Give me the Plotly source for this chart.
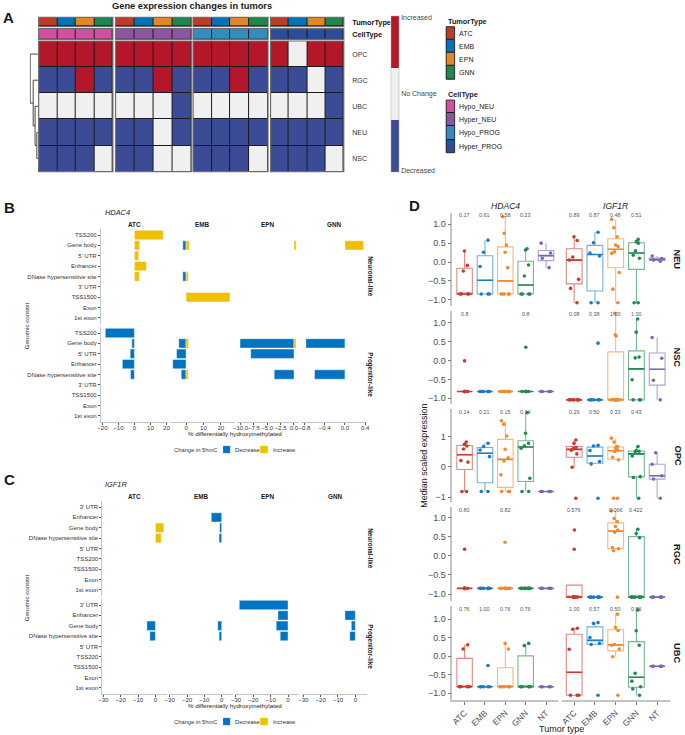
import numpy as np
import plotly.graph_objects as go

W, H = 685, 735
FONT = "Liberation Sans, Arial, sans-serif"

# ---------------- Panel A data ----------------
A_rows = ["OPC", "RGC", "UBC", "NEU", "NSC"]
A_tumors = ["ATC", "EMB", "EPN", "GNN"]
A_celltypes = ["Hypo_NEU", "Hyper_NEU", "Hypo_PROG", "Hyper_PROG"]
A_status_labels = ["Decreased", "No Change", "Increased"]
A_hypo_neu = [[1, 1, 1, 1], [-1, -1, 1, -1], [0, 0, 0, 0], [-1, -1, -1, -1], [-1, -1, -1, 0]]
A_hyper_neu = [[1, 1, 1, 1], [-1, -1, 1, -1], [0, 0, 0, -1], [-1, -1, 0, -1], [-1, -1, 0, 0]]
A_hypo_prog = [[1, 1, 1, 1], [-1, -1, 1, -1], [0, 0, 0, 0], [-1, -1, -1, -1], [-1, -1, -1, 0]]
A_hyper_prog = [[1, 0, 1, 1], [-1, -1, 0, -1], [0, 0, 0, -1], [-1, -1, -1, -1], [-1, -1, -1, 0]]
A_dendro_merges = [(["NEU"], ["NSC"], 1.0),
                   (["UBC"], ["NEU", "NSC"], 2.6),
                   (["RGC"], ["UBC", "NEU", "NSC"], 4.3),
                   (["OPC"], ["RGC", "UBC", "NEU", "NSC"], 7.0)]
A_tumor_colors = ["#BC3C29", "#0072B5", "#E18727", "#20854E"]
A_cell_colors = ["#D24FA0", "#8C55A0", "#338CBE", "#2B4B9B"]
A_status_colors = ["#3C4B96", "#F0F0F0", "#B5172A"]

# ---------------- Panel B data (HDAC4) ----------------
B_contexts = ["TSS200", "Gene body", "5' UTR", "Enhancer", "DNase hypersensitive site",
              "3' UTR", "TSS1500", "Exon", "1st exon"]
B_tumors = ["ATC", "EMB", "EPN", "GNN"]
N = None
B_neuronal_decrease = {"ATC": [N] * 9,
                       "EMB": [N, -1.9, N, N, -1.9, N, N, N, N],
                       "EPN": [N] * 9,
                       "GNN": [N] * 9}
B_neuronal_increase = {"ATC": [18.0, 3.3, 2.65, 7.55, 3.1, N, N, N, N],
                       "EMB": [N, 1.8, N, N, 1.3, N, 25.3, N, N],
                       "EPN": [N, 0.4, N, N, N, N, N, N, N],
                       "GNN": [N, 0.37, N, N, N, N, N, N, N]}
B_progenitor_decrease = {"ATC": [-18.2, -1.6, -2.65, -7.55, -2.45, N, N, N, N],
                         "EMB": [N, -4.2, -5.5, -7.7, -2.8, N, N, N, N],
                         "EPN": [N, -10.1, -8.1, N, -3.7, N, N, N, N],
                         "GNN": [N, -0.77, N, N, -0.6, N, N, N, N]}
B_progenitor_increase = {"ATC": [N] * 9,
                         "EMB": [N, 1.5, N, N, 1.3, N, N, N, N],
                         "EPN": [N, 0.4, N, N, N, N, N, N, N],
                         "GNN": [N] * 9}
B_ticks = {"ATC": [-20, -10, 0, 10, 20], "EMB": [0, 10, 20],
           "EPN": [-10, -7.5, -5, -2.5, 0], "GNN": [-0.8, -0.4, 0, 0.4]}
B_tickformat = {"ATC": "d", "EMB": "d", "EPN": ".1f", "GNN": ".1f"}

# ---------------- Panel C data (IGF1R) ----------------
C_contexts = ["3' UTR", "Enhancer", "Gene body", "DNase hypersensitive site", "5' UTR",
              "TSS200", "TSS1500", "Exon", "1st exon"]
C_neuronal_decrease = {"ATC": [N] * 9,
                       "EMB": [N, -6.0, -1.2, -1.5, N, N, N, N, N],
                       "EPN": [N] * 9,
                       "GNN": [N] * 9}
C_neuronal_increase = {"ATC": [N, N, 4.9, 3.4, N, N, N, N, N],
                       "EMB": [N] * 9, "EPN": [N] * 9, "GNN": [N] * 9}
C_progenitor_decrease = {"ATC": [N, N, -4.9, -3.2, N, N, N, N, N],
                         "EMB": [N, N, -2.3, -1.5, N, N, N, N, N],
                         "EPN": [-28.1, -5.8, -6.8, -4.5, N, N, N, N, N],
                         "GNN": [N, -6.0, -2.3, -3.2, N, N, N, N, N]}
C_progenitor_increase = {"ATC": [N] * 9, "EMB": [N] * 9, "EPN": [N] * 9, "GNN": [N] * 9}
C_ticks = [-30, -20, -10, 0]
CHANGE_TITLE = "Change in 5hmC"
CHANGE_LABELS = ["Decrease", "Increase"]
CHANGE_COLORS = ["#0073C2", "#EFC000"]

# ---------------- Panel D data ----------------
D_groups = ["ATC", "EMB", "EPN", "GNN", "NT"]
D_colors = ["#CB3A2E", "#1C7BC4", "#F08A2C", "#218A4E", "#7A68B4"]
D_celltypes = ["NEU", "NSC", "OPC", "RGC", "UBC"]
D_genes = ["HDAC4", "IGF1R"]

D_NEU_HDAC4 = {"ATC": [0.29, -0.09, -0.24, -0.85, -0.85, -0.85, -0.85],
               "EMB": [0.58, 0.26, -0.12, -0.85, -0.85, -0.85],
               "EPN": [1.2, 0.76, 0.45, 0.26, -0.15, -0.85, -0.85, -0.85, -0.85, -0.85],
               "GNN": [0.35, 0.32, -0.08, -0.37, -0.85, -0.85, -0.85, -0.85],
               "NT": [0.5, 0.24, 0.1, -0.15]}
D_NEU_IGF1R = {"ATC": [0.67, 0.57, 0.13, 0.05, -0.46, -0.7, -1.08],
               "EMB": [0.79, 0.51, 0.24, 0.16, -1.08, -1.08],
               "EPN": [1.13, 0.91, 0.67, 0.45, 0.41, 0.27, 0.23, -0.28, -0.72, -1.08],
               "GNN": [0.6, 0.54, 0.5, 0.3, 0.18, 0.1, -1.08, -1.08],
               "NT": [0.16, 0.09, 0.05, 0.02]}
D_NSC_HDAC4 = {"ATC": [-0.01, -0.82, -0.82, -0.82, -0.82, -0.82, -0.82],
               "EMB": [-0.82] * 6,
               "EPN": [-0.82] * 10,
               "GNN": [0.35, -0.82, -0.82, -0.82, -0.82, -0.82, -0.82, -0.82],
               "NT": [-0.82] * 4}
D_NSC_IGF1R = {"ATC": [-1.04] * 7,
               "EMB": [0.46, -1.04, -1.04, -1.04, -1.04, -1.04],
               "EPN": [1.25, 0.68, 0.65, -1.04, -1.04, -1.04, -1.04, -1.04, -1.04, -1.04],
               "GNN": [1.1, 0.75, 0.09, 0.07, -0.51, -1.04, -1.04, -1.04],
               "NT": [0.61, 0.06, -0.52, -1.04]}
D_OPC_HDAC4 = {"ATC": [0.82, 0.75, 0.69, 0.59, 0.21, 0.16, -0.81, -0.81],
               "EMB": [0.78, 0.67, 0.56, 0.34, -0.81, -0.81],
               "EPN": [1.52, 1.41, 1.02, 0.58, 0.3, 0.2, -0.26, -0.81, -0.81, -0.81],
               "GNN": [1.79, 1.11, 0.78, 0.7, 0.62, -0.37, -0.81, -0.81],
               "NT": [-0.81] * 4}
D_OPC_IGF1R = {"ATC": [0.89, 0.78, 0.64, 0.61, 0.55, 0.43, -0.01, -1.03],
               "EMB": [0.71, 0.69, 0.54, 0.18, 0.1, -1.03],
               "EPN": [0.95, 0.82, 0.67, 0.62, 0.56, 0.51, 0.32, 0.23, -1.03, -1.03],
               "GNN": [0.67, 0.54, 0.52, 0.5, 0.36, -0.32, -0.35, -1.03],
               "NT": [0.47, 0.09, -0.29, -0.4, -1.03]}
D_RGC_HDAC4 = {"ATC": [0.17, -0.85, -0.85, -0.85, -0.85, -0.85, -0.85],
               "EMB": [-0.85] * 6,
               "EPN": [0.35, -0.85, -0.85, -0.85, -0.85, -0.85, -0.85, -0.85, -0.85, -0.85],
               "GNN": [-0.85] * 8,
               "NT": [-0.85] * 4}
D_RGC_IGF1R = {"ATC": [0.67, 0.17, -1.08, -1.08, -1.08, -1.08, -1.08, -1.08],
               "EMB": [-1.08] * 6,
               "EPN": [1.17, 0.97, 0.89, 0.76, 0.67, 0.61, 0.21, 0.18, 0.13, -1.08],
               "GNN": [0.69, 0.58, 0.47, -1.08, -1.08, -1.08, -1.08, -1.08],
               "NT": [-1.08] * 4}
D_UBC_HDAC4 = {"ATC": [0.31, 0.2, -0.82, -0.82, -0.82, -0.82],
               "EMB": [-0.25, -0.82, -0.82, -0.82, -0.82, -0.82],
               "EPN": [0.35, 0.2, -0.82, -0.82, -0.82, -0.82, -0.82],
               "GNN": [0.35, 0.29, -0.82, -0.82, -0.82, -0.82],
               "NT": [-0.82] * 4}
D_UBC_IGF1R = {"ATC": [0.76, 0.73, 0.19, -1.05, -1.05, -1.05],
               "EMB": [0.91, 0.89, 0.51, 0.35, 0.32, -1.05],
               "EPN": [1.14, 0.78, 0.7, 0.32, 0.3, 0.2, -0.01, -1.05],
               "GNN": [1.25, 0.69, 0.3, -0.46, -0.67, -0.82, -0.88, -1.05],
               "NT": [-0.27] * 4}
D_pvalues = {("NEU", "HDAC4"): ["0.17", "0.61", "0.58", "0.23"],
             ("NEU", "IGF1R"): ["0.89", "0.87", "0.48", "0.51"],
             ("NSC", "HDAC4"): ["0.8", "", "", "0.8"],
             ("NSC", "IGF1R"): ["0.08", "0.38", "1.00", "1.00"],
             ("OPC", "HDAC4"): ["0.14", "0.21", "0.15", "0.14"],
             ("OPC", "IGF1R"): ["0.29", "0.50", "0.33", "0.43"],
             ("RGC", "HDAC4"): ["0.80", "", "0.82", ""],
             ("RGC", "IGF1R"): ["0.576", "", "0.066", "0.422"],
             ("UBC", "HDAC4"): ["0.76", "1.00", "0.76", "0.76"],
             ("UBC", "IGF1R"): ["1.00", "0.57", "0.50", "0.86"]}
D_data = {("NEU", "HDAC4"): D_NEU_HDAC4, ("NEU", "IGF1R"): D_NEU_IGF1R,
          ("NSC", "HDAC4"): D_NSC_HDAC4, ("NSC", "IGF1R"): D_NSC_IGF1R,
          ("OPC", "HDAC4"): D_OPC_HDAC4, ("OPC", "IGF1R"): D_OPC_IGF1R,
          ("RGC", "HDAC4"): D_RGC_HDAC4, ("RGC", "IGF1R"): D_RGC_IGF1R,
          ("UBC", "HDAC4"): D_UBC_HDAC4, ("UBC", "IGF1R"): D_UBC_IGF1R}

# ---------------- helpers ----------------
fig = go.Figure()
LAY = {}
ANN = []
SHP = []
_n = [0]
BASE = dict(showgrid=False, zeroline=False, showline=False, showticklabels=False,
            ticks="", fixedrange=True)


def xd(a, b):
    return [a / W, b / W]


def yd(top, bot):
    return [1 - bot / H, 1 - top / H]


def axes(xdom, ydom, xo=None, yo=None):
    _n[0] += 1
    s = "" if _n[0] == 1 else str(_n[0])
    xa = dict(BASE)
    xa.update(domain=xdom, anchor="y" + s)
    xa.update(xo or {})
    ya = dict(BASE)
    ya.update(domain=ydom, anchor="x" + s)
    ya.update(yo or {})
    LAY["xaxis" + s] = xa
    LAY["yaxis" + s] = ya
    return "x" + s, "y" + s


def ptext(x, y, s, size, color="#1a1a1a", xanchor="center", yanchor="middle", angle=0):
    ANN.append(dict(x=x / W, y=1 - y / H, xref="paper", yref="paper", text=s, showarrow=False,
                    xanchor=xanchor, yanchor=yanchor, textangle=angle,
                    font=dict(size=size, color=color, family=FONT)))


def frame(xr, yr, bg="#1b1b1b", edge="#6e6e6e", ew=1.2):
    if bg:
        SHP.append(dict(type="rect", xref=xr + " domain", yref=yr + " domain", x0=0, x1=1,
                        y0=0, y1=1, fillcolor=bg, line=dict(width=0), layer="below"))
    SHP.append(dict(type="rect", xref=xr + " domain", yref=yr + " domain", x0=0, x1=1, y0=0, y1=1,
                    fillcolor="rgba(0,0,0,0)", line=dict(color=edge, width=ew), layer="above"))


def discrete(colors):
    n = len(colors)
    sc = []
    for i, c in enumerate(colors):
        sc.append([i / n, c])
        sc.append([(i + 1) / n, c])
    return sc


def lighten(hexc, f):
    h = hexc.lstrip("#")
    r, g, b = int(h[0:2], 16), int(h[2:4], 16), int(h[4:6], 16)
    return "rgb(%d,%d,%d)" % (r + (255 - r) * f, g + (255 - g) * f, b + (255 - b) * f)


# ================= Panel A =================
ptext(5, 18, "<b>A</b>", 15)
ptext(190, 6, "<b>Gene expression changes in tumors</b>", 9.3)
A_blocks_px = [(35, 110), (112.7, 189.3), (191, 266.7), (269.3, 343.3)]
A_values = [A_hypo_neu, A_hyper_neu, A_hypo_prog, A_hyper_prog]
right_lbl = dict(side="right", showticklabels=True, ticks="outside", ticklen=6,
                 tickcolor="rgba(0,0,0,0)")
for b in range(4):
    x0, x1 = A_blocks_px[b]
    last = b == 3
    yo = dict(type="category")
    if last:
        yo.update(right_lbl, tickfont=dict(size=7.3, color="#111", weight="bold"))
    xr, yr = axes(xd(x0, x1), yd(17.3, 26.7), dict(type="category"), yo)
    fig.add_heatmap(z=[list(range(len(A_tumors)))], x=A_tumors, y=["TumorType"],
                    colorscale=discrete(A_tumor_colors), zmin=-0.5, zmax=3.5, showscale=False,
                    xgap=1, ygap=1, xaxis=xr, yaxis=yr, hoverinfo="skip")
    frame(xr, yr)
    yo = dict(type="category")
    if last:
        yo.update(right_lbl, tickfont=dict(size=7.3, color="#111", weight="bold"))
    xr, yr = axes(xd(x0, x1), yd(28.7, 39.3), dict(type="category"), yo)
    fig.add_heatmap(z=[[b] * len(A_tumors)], x=A_tumors, y=["CellType"],
                    colorscale=discrete(A_cell_colors), zmin=-0.5, zmax=3.5, showscale=False,
                    xgap=1, ygap=1, xaxis=xr, yaxis=yr, hoverinfo="skip")
    frame(xr, yr)
    yo = dict(type="category", categoryorder="array", categoryarray=A_rows, autorange="reversed")
    if last:
        yo.update(right_lbl, tickfont=dict(size=7, color="#333"))
    xr, yr = axes(xd(x0, x1), yd(41, 171.7), dict(type="category"), yo)
    hm = dict(z=A_values[b], x=A_tumors, y=A_rows, colorscale=discrete(A_status_colors),
              zmin=-1.5, zmax=1.5, xgap=1, ygap=1, xaxis=xr, yaxis=yr, hoverinfo="skip",
              showscale=(b == 0))
    if b == 0:
        hm["colorbar"] = dict(x=391 / W, xanchor="left", y=1 - 16 / H, yanchor="top",
                              len=156, lenmode="pixels", thickness=8, thicknessmode="pixels",
                              tickvals=[-1.47, 0, 1.47], ticktext=A_status_labels, ticks="",
                              tickfont=dict(size=7, color="#444", family=FONT),
                              outlinewidth=0.5, outlinecolor="#aaa", xpad=0, ypad=0)
    fig.add_heatmap(**hm)
    frame(xr, yr)

# dendrogram (segments computed from the merge list)
pos = {(r,): i for i, r in enumerate(A_rows)}
hgt = {(r,): 0.0 for r in A_rows}
dx, dy = [], []
for left, right, h in A_dendro_merges:
    Lk, Rk = tuple(left), tuple(right)
    dx += [hgt[Lk], h, h, hgt[Rk], None]
    dy += [pos[Lk], pos[Lk], pos[Rk], pos[Rk], None]
    pos[Lk + Rk] = (pos[Lk] + pos[Rk]) / 2
    hgt[Lk + Rk] = h
xr, yr = axes(xd(26, 34.3), yd(41, 171.7), dict(range=[7.4, 0]), dict(range=[4.5, -0.5]))
fig.add_scatter(x=dx, y=dy, mode="lines", line=dict(color="#333", width=0.9),
                xaxis=xr, yaxis=yr, hoverinfo="skip", showlegend=False)

# legend swatches for annotations
for title, ty, items, cols, y0, y1 in (("TumorType", 21, A_tumors, A_tumor_colors, 26.7, 79.3),
                                       ("CellType", 94, A_celltypes, A_cell_colors, 100, 152.7)):
    ptext(446.7, ty, "<b>%s</b>" % title, 7.3, xanchor="left")
    xr, yr = axes(xd(446.7, 455.3), yd(y0, y1), dict(type="category"),
                  dict(type="category", autorange="reversed", side="right", showticklabels=True,
                       ticks="outside", ticklen=2, tickcolor="rgba(0,0,0,0)",
                       tickfont=dict(size=7, color="#222")))
    fig.add_heatmap(z=[[i] for i in range(len(items))], x=["k"], y=items,
                    colorscale=discrete(cols), zmin=-0.5, zmax=3.5, showscale=False,
                    xgap=1, ygap=1, xaxis=xr, yaxis=yr, hoverinfo="skip")
    frame(xr, yr, edge="#222", ew=0.8)

# ================= Panels B and C =================
AXC = "#C4C4C4"
TF = dict(size=6, color="#333", family=FONT)
LEG_SWATCH_X = [(221, 228.7), (258.7, 266.7)]
LEG_LABEL_X = [231, 269.3]


def bar_panel(top_px, gene, contexts, neu_dec, neu_inc, pro_dec, pro_inc, col_px, xranges,
              ticks, tickfmt, letter, letter_y):
    ptext(6, letter_y, "<b>%s</b>" % letter, 15)
    ptext(100, top_px - 16, "<i>%s</i>" % gene, 7.4, xanchor="left")
    rows_px = [(top_px, top_px + 95.4), (top_px + 98, top_px + 193.4)]
    strips = ["Neuronal-like", "Progenitor-like"]
    for r in range(2):
        y0, y1 = rows_px[r]
        dec = [neu_dec, pro_dec][r]
        inc = [neu_inc, pro_inc][r]
        for c, t in enumerate(B_tumors):
            bottom = r == 1
            xo = dict(range=xranges[c])
            if bottom:
                xo.update(showline=True, linecolor=AXC, linewidth=1.2, ticks="outside",
                          ticklen=2, tickcolor="#555", tickwidth=0.6, showticklabels=True,
                          tickvals=ticks[c], tickformat=tickfmt[c], tickfont=TF,
                          tickangle=0, ticklabelstandoff=-3)
            yo = dict(type="category", categoryorder="array", categoryarray=contexts,
                      range=[len(contexts) - 0.4, -0.6])
            if c == 0:
                yo.update(showline=True, linecolor=AXC, linewidth=1.2, ticks="outside",
                          ticklen=2, tickcolor="#555", tickwidth=0.6, showticklabels=True,
                          tickfont=TF)
            xr, yr = axes(xd(*col_px[c]), yd(y0, y1), xo, yo)
            for vals, colr in ((dec[t], CHANGE_COLORS[0]), (inc[t], CHANGE_COLORS[1])):
                fig.add_bar(x=vals, y=contexts, orientation="h", marker_color=colr,
                            marker_line=dict(color="rgba(255,255,255,0.55)", width=0.8),
                            xaxis=xr, yaxis=yr, hoverinfo="skip", showlegend=False)
            if r == 0:
                ptext(sum(col_px[c]) / 2, top_px - 4, "<b>%s</b>" % t, 6.3)
        ptext(370, (y0 + y1) / 2, "<b>%s</b>" % strips[r], 6.3, angle=90)
    ptext(23, (rows_px[0][0] + rows_px[1][1]) / 2, "Genomic context", 6.2, angle=-90)
    ptext(233, rows_px[1][1] + 11.5, "% differentially hydroxymethylated", 6.2)
    # legend: colour swatches drawn as one-cell heatmaps
    ly = rows_px[1][1] + 27.3
    ptext(218, ly, CHANGE_TITLE, 5.8, color="#333", xanchor="right")
    for i, (lab, colr) in enumerate(zip(CHANGE_LABELS, CHANGE_COLORS)):
        sx0, sx1 = LEG_SWATCH_X[i]
        xr, yr = axes(xd(sx0, sx1), yd(ly - 3.9, ly + 3.9), dict(range=[-0.5, 0.5]),
                      dict(range=[-0.5, 0.5]))
        fig.add_heatmap(z=[[i]], x=[0], y=[0], colorscale=discrete(CHANGE_COLORS), zmin=-0.5,
                        zmax=1.5, showscale=False, xaxis=xr, yaxis=yr, hoverinfo="skip")
        frame(xr, yr, bg=None, edge="rgba(255,255,255,0.7)", ew=0.6)
        ptext(LEG_LABEL_X[i], ly, lab, 5.8, color="#333", xanchor="left")


B_col_px = [(98, 166), (168, 233), (235, 298), (300, 367)]
B_xranges = [[-20.9, 21.2], [-9.1, 28.0], [-10.74, 0.93], [-0.868, 0.44]]
bar_panel(228.8, "HDAC4", B_contexts, B_neuronal_decrease, B_neuronal_increase,
          B_progenitor_decrease, B_progenitor_increase, B_col_px, B_xranges,
          [B_ticks[t] for t in B_tumors], [B_tickformat[t] for t in B_tumors], "B", 207)

C_col_px = [(99.5, 164.5), (166.5, 231.5), (233.5, 298.5), (301.5, 366.5)]
bar_panel(500.8, "IGF1R", C_contexts, C_neuronal_decrease, C_neuronal_increase,
          C_progenitor_decrease, C_progenitor_increase, C_col_px, [[-30.5, 6.6]] * 4,
          [C_ticks] * 4, ["d"] * 4, "C", 479)

# ================= Panel D =================
ptext(415, 206, "<b>D</b>", 15)
D_col_px = [(453, 560), (563.5, 672.5)]
D_row_px = [(213, 306), (311, 404), (409, 502), (507, 601), (606, 700)]
D_yranges = [[-1.167, 1.30], [-1.15, 1.31], [-1.155, 1.91], [-1.18, 1.27], [-1.18, 1.36]]
DTF = dict(size=9, color="#4D4D4D", family=FONT)


def box_stats(v):
    v = np.sort(np.asarray(v, float))
    q1, med, q3 = np.percentile(v, [25, 50, 75])
    iqr = q3 - q1
    lo = v[v >= q1 - 1.5 * iqr].min()
    hi = v[v <= q3 + 1.5 * iqr].max()
    return q1, med, q3, lo, hi


for r, ct in enumerate(D_celltypes):
    y0, y1 = D_row_px[r]
    last = r == len(D_celltypes) - 1
    for c, gene in enumerate(D_genes):
        xo = dict(type="category", categoryorder="array", categoryarray=D_groups,
                  range=[-0.6, len(D_groups) - 0.4])
        if last:
            xo.update(showline=True, linecolor=AXC, linewidth=1.5, ticks="outside", ticklen=3,
                      tickcolor="#777", showticklabels=True, tickangle=-45,
                      tickfont=dict(size=8.5, color="#4D4D4D", family=FONT))
        yo = dict(range=D_yranges[r])
        if ct == "OPC":
            yo.update(tickvals=[-1, 0, 1], tickformat="d")
        else:
            yo.update(tickvals=[-1, -0.5, 0, 0.5, 1], tickformat=".1f")
        if c == 0:
            yo.update(showline=True, linecolor=AXC, linewidth=1.5, ticks="outside", ticklen=3,
                      tickcolor="#777", showticklabels=True, tickfont=DTF)
        xr, yr = axes(xd(*D_col_px[c]), yd(y0, y1), xo, yo)
        data = D_data[(ct, gene)]
        for g, colr in zip(D_groups, D_colors):
            vals = data[g]
            q1, med, q3, lo, hi = box_stats(vals)
            common = dict(xaxis=xr, yaxis=yr, hoverinfo="skip", showlegend=False, width=0.76,
                          whiskerwidth=0)
            fig.add_box(x=[g], q1=[q1], median=[med], q3=[q3], lowerfence=[lo],
                        upperfence=[hi], boxpoints=False, fillcolor="rgba(255,255,255,0)",
                        line=dict(color=lighten(colr, 0.4), width=1.1), **common)
            fig.add_box(x=[g], q1=[med], median=[med], q3=[med], lowerfence=[med],
                        upperfence=[med], boxpoints=False, fillcolor="rgba(255,255,255,0)",
                        line=dict(color=colr, width=1.6), **common)
            fig.add_box(x=[g] * len(vals), y=vals, boxpoints="all", jitter=0.75, pointpos=0,
                        fillcolor="rgba(0,0,0,0)", line=dict(color="rgba(0,0,0,0)", width=0),
                        marker=dict(color=colr, size=3.6), **common)
        for g, p in zip(D_groups, D_pvalues[(ct, gene)]):
            if p:
                ANN.append(dict(x=g, y=1 - 2.5 / (y1 - y0), xref=xr, yref=yr + " domain",
                                text=p, showarrow=False, yanchor="middle",
                                font=dict(size=5.4, color="#555", family=FONT)))
        if r == 0:
            ptext(sum(D_col_px[c]) / 2, 206, "<i>%s</i>" % gene, 8.6, color="#222")
    ptext(680, (y0 + y1) / 2, "<b>%s</b>" % ct, 9.3, angle=90)
ptext(424, 456, "Median scaled expression", 9, color="#222", angle=-90)
ptext(563, 729, "Tumor type", 9, color="#222")

LAY.update(width=W, height=H, margin=dict(l=0, r=0, t=0, b=0), plot_bgcolor="white",
           paper_bgcolor="white", font=dict(family=FONT), barmode="relative", bargap=0.1,
           boxmode="overlay", showlegend=False, annotations=ANN, shapes=SHP)
fig.update_layout(**LAY)
fig.write_html("out.html", config={"displayModeBar": False},
               post_script="document.body.style.margin='0px';")
